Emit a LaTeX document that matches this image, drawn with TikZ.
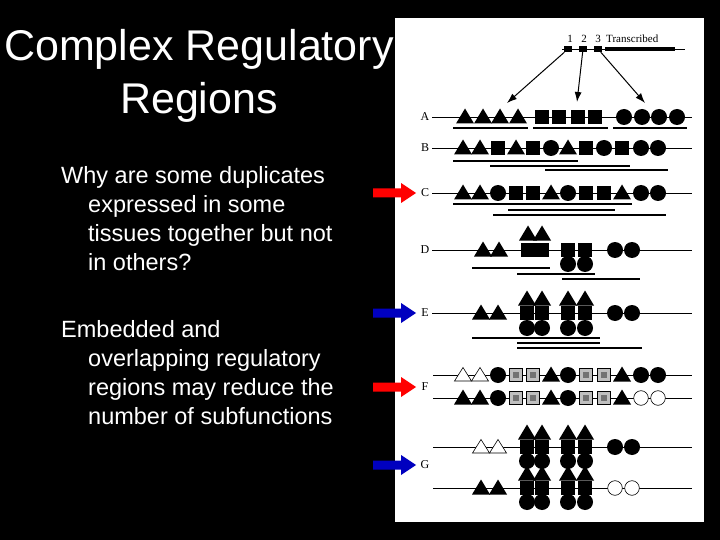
\documentclass[tikz,border=0pt]{standalone}
\usetikzlibrary{arrows.meta}
\usepackage{fontspec}
\setmainfont{Liberation Sans}
\newfontfamily\serf{Liberation Serif}
\newcommand\sT[2]{\fill (#1-9,#2+6.5) -- (#1+9,#2+6.5) -- (#1,#2-8.5) -- cycle;}
\newcommand\sO[2]{\filldraw[fill=white,draw=black,line width=0.6pt] (#1-8.5,#2+6) -- (#1+8.5,#2+6) -- (#1,#2-7.5) -- cycle;}
\newcommand\sS[2]{\fill (#1-7,#2-7) rectangle (#1+7,#2+7);}
\newcommand\sH[2]{\filldraw[fill=black!25,draw=black,line width=0.6pt] (#1-6.5,#2-6.5) rectangle (#1+6.5,#2+6.5);\fill[black!55] (#1-3,#2-3) rectangle (#1+3,#2+3);}
\newcommand\sC[2]{\fill (#1,#2) circle (8);}
\newcommand\sW[2]{\filldraw[fill=white,draw=black,line width=0.6pt] (#1,#2) circle (7.3);}
\newcommand\row[2]{\foreach \k/\x in {#2} {\csname s\k\endcsname{\x}{#1}}}
\begin{document}
\begin{tikzpicture}[x=1pt,y=-1pt,
  title/.style={text=white,font=\fontsize{43}{53}\selectfont,align=center},
  body/.style={text=white,font=\fontsize{23.5}{29}\selectfont,align=left,anchor=north west,inner sep=0},
  lab/.style={font=\serf\fontsize{12}{13}\selectfont,inner sep=0},
  small/.style={lab,font=\serf\fontsize{11}{12}\selectfont},
  dna/.style={line width=0.8pt},
  reg/.style={line width=1.6pt},
  arr/.style={-{Latex[length=10pt,width=7pt]},line width=1pt}]
\useasboundingbox (0,0) rectangle (720,540);
\fill[black] (0,0) rectangle (720,540);
\node[title] (t) at (199,76) {Complex Regulatory\\Regions};
\node[body] (p1) at (61,166) {Why are some duplicates\\\hspace*{27pt}expressed in some\\\hspace*{27pt}tissues together but not\\\hspace*{27pt}in others?};
\node[body] (p2) at (61,320) {Embedded and\\\hspace*{27pt}overlapping regulatory\\\hspace*{27pt}regions may reduce the\\\hspace*{27pt}number of subfunctions};
\fill[white] (395,18) rectangle (704,522);
% top gene
\draw[dna] (562,49) -- (685,49);
\fill (605,47) rectangle (675,51.5);
\node[inner sep=0,minimum width=8pt,minimum height=6pt,fill=black] (g1) at (568,49) {};
\node[inner sep=0,minimum width=8pt,minimum height=6pt,fill=black] (g2) at (583,49) {};
\node[inner sep=0,minimum width=8pt,minimum height=6pt,fill=black] (g3) at (598,49) {};
\node[small] at (570,39) {1};
\node[small] at (584,39) {2};
\node[small] at (598,39) {3};
\node[small,anchor=west] at (606,39) {Transcribed};
\coordinate (e1) at (507,103); \coordinate (e2) at (577,102); \coordinate (e3) at (645,103);
\draw[arr] (g1) -- (e1); \draw[arr] (g2) -- (e2); \draw[arr] (g3) -- (e3);
% labels
\node[lab] (A) at (425,117) {A};
\node[lab] (B) at (425,148) {B};
\node[lab] (C) at (425,193) {C};
\node[lab] (D) at (425,250) {D};
\node[lab] (E) at (425,313) {E};
\node[lab] (F) at (425,387) {F};
\node[lab] (G) at (425,465) {G};
% A
\draw[dna] (432,117) -- (692,117);
\row{117}{T/465,T/483,T/500,T/518,S/542,S/559,S/578,S/595,C/624,C/642,C/659,C/677}
\draw[reg] (453,128) -- (528,128); \draw[reg] (533,128) -- (608,128); \draw[reg] (613,128) -- (687,128);
% B
\draw[dna] (432,148) -- (692,148);
\row{148}{T/463,T/480,S/498,T/516,S/533,C/551,T/568,S/586,C/604,S/622,C/641,C/658}
\draw[reg] (453,161) -- (578,161); \draw[reg] (490,166) -- (630,166); \draw[reg] (545,170) -- (668,170);
% C
\draw[dna] (432,193) -- (692,193);
\row{193}{T/463,T/480,C/498,S/516,S/533,T/551,C/568,S/586,S/604,T/622,C/641,C/658}
\draw[reg] (453,204) -- (632,204); \draw[reg] (508,210) -- (615,210); \draw[reg] (493,215) -- (666,215);
% D
\draw[dna] (432,250) -- (692,250);
\row{250}{T/483,T/499,S/528,S/542,S/568,S/585,C/615,C/632}
\row{234}{T/528,T/542}
\row{264}{C/568,C/585}
\draw[reg] (472,268) -- (550,268); \draw[reg] (517,274) -- (595,274); \draw[reg] (562,279) -- (640,279);
% E
\draw[dna] (432,313) -- (692,313);
\row{313}{T/481,T/498,S/527,S/542,S/568,S/585,C/615,C/632}
\row{299}{T/527,T/542,T/568,T/585}
\row{328}{C/527,C/542,C/568,C/585}
\draw[reg] (472,338) -- (600,338); \draw[reg] (517,343) -- (600,343); \draw[reg] (517,348) -- (642,348);
% F
\draw[dna] (433,375) -- (692,375);
\row{375}{O/463,O/480,C/498,H/516,H/533,T/551,C/568,H/586,H/604,T/622,C/641,C/658}
\draw[dna] (433,398) -- (692,398);
\row{398}{T/463,T/480,C/498,H/516,H/533,T/551,C/568,H/586,H/604,T/622,W/641,W/658}
% G
\draw[dna] (433,447) -- (692,447);
\row{447}{O/481,O/498,S/527,S/542,S/568,S/585,C/615,C/632}
\row{433}{T/527,T/542,T/568,T/585}
\row{461}{C/527,C/542,C/568,C/585}
\draw[dna] (433,488) -- (692,488);
\row{488}{T/481,T/498,S/527,S/542,S/568,S/585,W/615,W/632}
\row{474}{T/527,T/542,T/568,T/585}
\row{502}{C/527,C/542,C/568,C/585}
% block arrows
\foreach \yy/\cc in {193/red,313/blue!75!black,387/red,465/blue!75!black}
  \fill[\cc] (373,\yy-4.5) -- (401,\yy-4.5) -- (401,\yy-10) -- (416,\yy) -- (401,\yy+10) -- (401,\yy+4.5) -- (373,\yy+4.5) -- cycle;
\end{tikzpicture}
\end{document}
